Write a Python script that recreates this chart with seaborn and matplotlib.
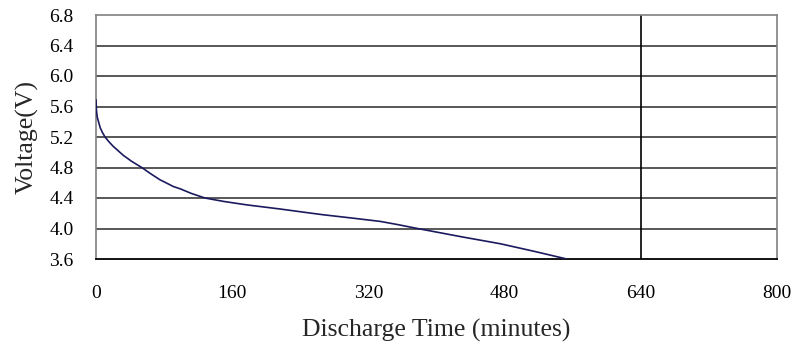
import matplotlib
matplotlib.use("Agg")
import matplotlib.pyplot as plt
import seaborn as sns
import pandas as pd

# Data
time_min = [0, 0.5, 1.5, 2.7, 5, 7.5, 10.6, 15, 20, 26, 32, 42, 53.7, 64, 75, 91, 99, 112, 128, 150,
            177, 216, 240, 267, 300, 334, 355, 373, 392, 430, 475, 515, 553]
voltage = [5.69, 5.55, 5.46, 5.41, 5.32, 5.26, 5.20, 5.14, 5.08, 5.02, 4.96, 4.88, 4.80, 4.72, 4.64, 4.55,
           4.52, 4.46, 4.40, 4.355, 4.31, 4.256, 4.22, 4.18, 4.138, 4.093, 4.05, 4.01, 3.97, 3.89, 3.80, 3.70, 3.60]
x_ticks = [0, 160, 320, 480, 640, 800]
y_ticks = [3.6, 4.0, 4.4, 4.8, 5.2, 5.6, 6.0, 6.4, 6.8]
marker_line_x = 640

sns.set_style("white")
plt.rcParams['font.family'] = ['Liberation Serif', 'DejaVu Serif']

df = pd.DataFrame({"t": time_min, "v": voltage})

fig = plt.figure(figsize=(7.96, 3.46), dpi=100)
ax = fig.add_axes([96/796, 1 - 259/346, (777-96)/796, (259-15)/346])

for y in y_ticks[1:-1]:
    ax.axhline(y, color="#4a4a4a", lw=1.3, zorder=1)
ax.axvline(marker_line_x, color="black", lw=1.2, zorder=1)

sns.lineplot(data=df, x="t", y="v", ax=ax, color="#1a1a5e", lw=1.2, zorder=3)

ax.set_xlim(0, 800)
ax.set_ylim(3.6, 6.8)
ax.set_xticks(x_ticks)
ax.set_xticklabels([str(v) for v in x_ticks])
ax.set_yticks(y_ticks)
ax.set_yticklabels([f"{v:.1f}" for v in y_ticks])
ax.tick_params(axis="both", length=0, labelsize=14, colors="black")
ax.tick_params(axis="x", pad=19)
ax.tick_params(axis="y", pad=16)

for s in ["left", "top", "right"]:
    ax.spines[s].set_color("#808080")
    ax.spines[s].set_linewidth(1.2)
ax.spines["bottom"].set_color("black")
ax.spines["bottom"].set_linewidth(1.3)

ax.set_xlabel("Discharge Time (minutes)", fontsize=18.5, labelpad=12)
ax.set_ylabel("Voltage(V)", fontsize=18.5, labelpad=8)

fig.savefig("out.png", dpi=100)
